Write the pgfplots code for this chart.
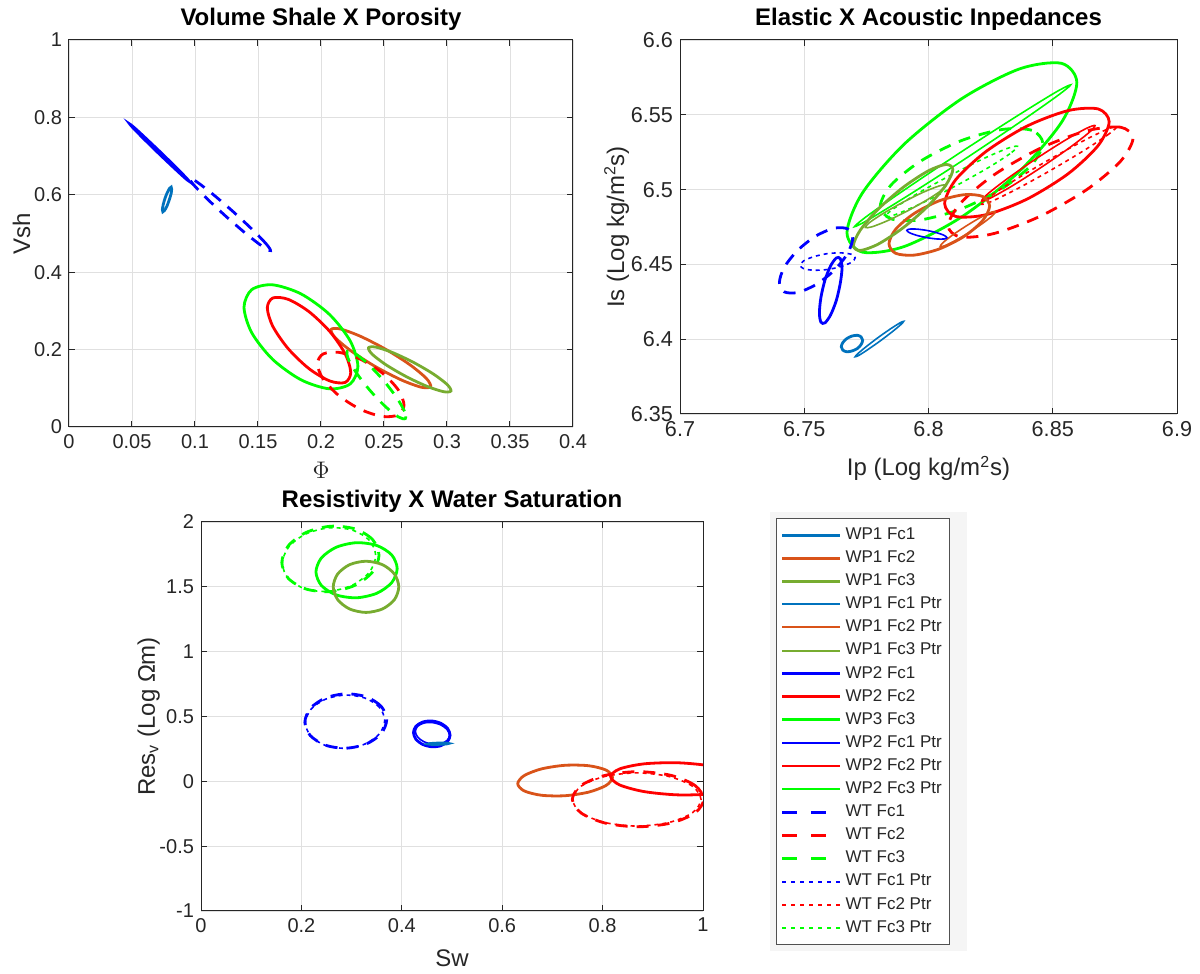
\documentclass[border=0pt]{standalone}
\usepackage{fontspec}
\setmainfont{Liberation Sans}
\usepackage{pgfplots}
\pgfplotsset{compat=1.18}
\definecolor{wpA}{HTML}{0072BD}
\definecolor{wpB}{HTML}{D95319}
\definecolor{wpC}{HTML}{77AC30}
\definecolor{pBlue}{HTML}{0000FF}
\definecolor{pRed}{HTML}{FF0000}
\definecolor{pGreen}{HTML}{00FF00}
\definecolor{axgray}{HTML}{262626}

\tikzset{
  thk/.style={line width=1.4pt},
  thn/.style={line width=0.8pt},
  dsh/.style={line width=1.4pt, dash pattern=on 6pt off 4.5pt},
  dtt/.style={line width=0.8pt, dash pattern=on 2pt off 2pt},
}
\pgfplotsset{
  ellax/.style={
    scale only axis, anchor=south west,
    grid=major, grid style={black!12, line width=0.4pt},
    axis line style={axgray, line width=0.5pt},
    tick style={axgray, line width=0.5pt}, major tick length=3pt, tick align=inside,
    ticklabel style={font=\fontsize{10}{12}\selectfont, text=axgray},
    label style={font=\fontsize{12}{14}\selectfont, text=axgray},
    title style={font=\bfseries\fontsize{12}{14}\selectfont, yshift=-5pt},
    /pgf/number format/assume math mode=true,
    /pgf/number format/fixed, /pgf/number format/precision=2,
    scaled ticks=false,
    every axis plot/.append style={smooth cycle},
  },
}

\begin{document}
\begin{tikzpicture}
\path[use as bounding box] (0pt,0pt) rectangle (600pt,487pt);

% ---------------- Vsh x porosity
\begin{axis}[ellax, at={(34.5pt,273.5pt)}, width=252pt, height=193.5pt,
  xmin=0, xmax=0.4, ymin=0, ymax=1,
  xtick={0,0.05,0.1,0.15,0.2,0.25,0.3,0.35,0.4}, ytick={0,0.2,0.4,0.6,0.8,1},
  title={Volume Shale X Porosity}, xlabel={$\Phi$}, ylabel={Vsh}, ylabel shift=-5pt]
\addplot[pBlue, thk] coordinates {(0.0955,0.6345) (0.0926,0.6454) (0.0842,0.6732) (0.0725,0.7105) (0.0606,0.7472) (0.0518,0.7736) (0.0483,0.7825) (0.0512,0.7716) (0.0596,0.7438) (0.0713,0.7065) (0.0832,0.6698) (0.0920,0.6434)};
\addplot[wpA, thk] coordinates {(0.0811,0.6199) (0.0815,0.6147) (0.0810,0.6023) (0.0795,0.5861) (0.0777,0.5704) (0.0758,0.5594) (0.0745,0.5561) (0.0741,0.5613) (0.0747,0.5737) (0.0761,0.5899) (0.0780,0.6056) (0.0798,0.6166)};
\addplot[pBlue, dsh] coordinates {(0.1599,0.4558) (0.1567,0.4724) (0.1457,0.5096) (0.1299,0.5575) (0.1135,0.6033) (0.1009,0.6346) (0.0955,0.6432) (0.0987,0.6266) (0.1097,0.5894) (0.1255,0.5415) (0.1419,0.4957) (0.1545,0.4644)};
\addplot[wpB, thk] coordinates {(0.2870,0.1040) (0.2837,0.1252) (0.2707,0.1605) (0.2515,0.2005) (0.2312,0.2345) (0.2153,0.2533) (0.2080,0.2520) (0.2113,0.2308) (0.2243,0.1955) (0.2435,0.1555) (0.2638,0.1215) (0.2797,0.1027)};
\addplot[wpC, thk] coordinates {(0.3031,0.0929) (0.3002,0.1095) (0.2893,0.1367) (0.2733,0.1671) (0.2566,0.1926) (0.2435,0.2064) (0.2377,0.2047) (0.2406,0.1881) (0.2515,0.1609) (0.2675,0.1305) (0.2842,0.1050) (0.2973,0.0912)};
\addplot[pRed, thk] coordinates {(0.2236,0.1408) (0.2192,0.1888) (0.2071,0.2463) (0.1905,0.2979) (0.1740,0.3298) (0.1618,0.3334) (0.1574,0.3078) (0.1618,0.2598) (0.1740,0.2023) (0.1905,0.1507) (0.2071,0.1188) (0.2192,0.1152)};
\addplot[pGreen, thk] coordinates {(0.2293,0.1565) (0.2232,0.2223) (0.2067,0.2909) (0.1841,0.3440) (0.1615,0.3674) (0.1450,0.3548) (0.1389,0.3095) (0.1450,0.2438) (0.1615,0.1751) (0.1841,0.1220) (0.2067,0.0986) (0.2232,0.1113)};
\addplot[pRed, dsh] coordinates {(0.2659,0.0565) (0.2613,0.0960) (0.2487,0.1393) (0.2315,0.1747) (0.2143,0.1928) (0.2017,0.1887) (0.1971,0.1635) (0.2017,0.1240) (0.2143,0.0807) (0.2315,0.0453) (0.2487,0.0272) (0.2613,0.0313)};
\addplot[pGreen, dsh] coordinates {(0.2669,0.0217) (0.2663,0.0405) (0.2597,0.0776) (0.2489,0.1230) (0.2367,0.1646) (0.2265,0.1912) (0.2209,0.1957) (0.2215,0.1769) (0.2281,0.1398) (0.2389,0.0944) (0.2511,0.0528) (0.2613,0.0262)};
\end{axis}

% ---------------- Is x Ip
\begin{axis}[ellax, at={(340pt,280pt)}, width=248.5pt, height=187pt,
  xmin=6.7, xmax=6.9, ymin=6.35, ymax=6.6,
  xtick={6.7,6.75,6.8,6.85,6.9}, ytick={6.35,6.4,6.45,6.5,6.55,6.6},
  ticklabel style={font=\fontsize{10.8}{13}\selectfont},
  title={Elastic X Acoustic Inpedances},
  xlabel={Ip (Log kg/m\textsuperscript{2}s)}, ylabel={Is (Log kg/m\textsuperscript{2}s)},
  xlabel style={yshift=-3pt}, ylabel shift=-6pt]
\addplot[pGreen, thk] coordinates {(6.8597,6.5714) (6.8535,6.5844) (6.8365,6.5806) (6.8134,6.5608) (6.7903,6.5305) (6.7734,6.4977) (6.7672,6.4712) (6.7734,6.4582) (6.7903,6.4620) (6.8134,6.4818) (6.8365,6.5121) (6.8535,6.5449)};
\addplot[pGreen, thn] coordinates {(6.8572,6.5700) (6.8518,6.5626) (6.8362,6.5444) (6.8146,6.5204) (6.7927,6.4970) (6.7765,6.4805) (6.7702,6.4752) (6.7756,6.4827) (6.7912,6.5008) (6.8128,6.5248) (6.8347,6.5482) (6.8509,6.5648)};
\addplot[pGreen, dsh] coordinates {(6.8460,6.5310) (6.8416,6.5396) (6.8297,6.5402) (6.8133,6.5328) (6.7970,6.5192) (6.7850,6.5032) (6.7806,6.4890) (6.7850,6.4804) (6.7970,6.4798) (6.8133,6.4872) (6.8297,6.5008) (6.8416,6.5168)};
\addplot[pGreen, dtt] coordinates {(6.8358,6.5289) (6.8328,6.5240) (6.8235,6.5141) (6.8103,6.5019) (6.7969,6.4906) (6.7867,6.4833) (6.7826,6.4819) (6.7856,6.4868) (6.7949,6.4967) (6.8081,6.5089) (6.8215,6.5202) (6.8317,6.5275)};
\addplot[pRed, thk] coordinates {(6.8727,6.5454) (6.8683,6.5539) (6.8562,6.5528) (6.8396,6.5424) (6.8231,6.5254) (6.8109,6.5065) (6.8065,6.4906) (6.8109,6.4821) (6.8231,6.4832) (6.8396,6.4936) (6.8562,6.5106) (6.8683,6.5295)};
\addplot[pRed, thn] coordinates {(6.8670,6.5428) (6.8645,6.5380) (6.8566,6.5278) (6.8453,6.5148) (6.8338,6.5026) (6.8250,6.4944) (6.8214,6.4924) (6.8239,6.4972) (6.8318,6.5074) (6.8431,6.5204) (6.8546,6.5326) (6.8634,6.5408)};
\addplot[pRed, dsh] coordinates {(6.8823,6.5343) (6.8773,6.5417) (6.8637,6.5393) (6.8451,6.5277) (6.8265,6.5100) (6.8129,6.4910) (6.8079,6.4757) (6.8129,6.4683) (6.8265,6.4707) (6.8451,6.4823) (6.8637,6.5000) (6.8773,6.5190)};
\addplot[pRed, dtt] coordinates {(6.8758,6.5422) (6.8727,6.5373) (6.8631,6.5267) (6.8496,6.5133) (6.8359,6.5007) (6.8255,6.4922) (6.8214,6.4902) (6.8245,6.4951) (6.8341,6.5057) (6.8476,6.5191) (6.8613,6.5317) (6.8717,6.5402)};
\addplot[wpB, thk] coordinates {(6.8246,6.4890) (6.8218,6.4954) (6.8144,6.4966) (6.8043,6.4925) (6.7942,6.4840) (6.7868,6.4735) (6.7841,6.4638) (6.7868,6.4574) (6.7942,6.4562) (6.8043,6.4603) (6.8144,6.4688) (6.8218,6.4793)};
\addplot[wpB, thn] coordinates {(6.8269,6.4853) (6.8258,6.4827) (6.8220,6.4777) (6.8166,6.4716) (6.8109,6.4660) (6.8066,6.4625) (6.8047,6.4619) (6.8058,6.4645) (6.8096,6.4695) (6.8151,6.4756) (6.8207,6.4812) (6.8250,6.4847)};
\addplot[wpC, thk] coordinates {(6.8098,6.5134) (6.8071,6.5168) (6.7998,6.5124) (6.7898,6.5015) (6.7798,6.4870) (6.7725,6.4728) (6.7698,6.4626) (6.7725,6.4593) (6.7798,6.4636) (6.7898,6.4745) (6.7998,6.4890) (6.8071,6.5033)};
\addplot[wpC, thn] coordinates {(6.8071,6.5030) (6.8053,6.4996) (6.7997,6.4934) (6.7917,6.4859) (6.7835,6.4792) (6.7772,6.4751) (6.7746,6.4747) (6.7763,6.4780) (6.7819,6.4842) (6.7899,6.4917) (6.7981,6.4984) (6.8044,6.5025)};
\addplot[pBlue, thk] coordinates {(6.7652,6.4476) (6.7645,6.4538) (6.7629,6.4543) (6.7606,6.4490) (6.7583,6.4393) (6.7567,6.4278) (6.7561,6.4176) (6.7567,6.4114) (6.7583,6.4109) (6.7606,6.4162) (6.7629,6.4259) (6.7645,6.4374)};
\addplot[pBlue, dsh] coordinates {(6.7695,6.4676) (6.7675,6.4737) (6.7621,6.4742) (6.7547,6.4690) (6.7473,6.4593) (6.7419,6.4479) (6.7400,6.4378) (6.7419,6.4317) (6.7473,6.4312) (6.7547,6.4365) (6.7621,6.4461) (6.7675,6.4575)};
\addplot[pBlue, dtt] coordinates {(6.7705,6.4544) (6.7690,6.4567) (6.7649,6.4577) (6.7594,6.4572) (6.7539,6.4552) (6.7498,6.4524) (6.7484,6.4494) (6.7498,6.4471) (6.7539,6.4461) (6.7594,6.4466) (6.7649,6.4486) (6.7690,6.4514)};
\addplot[pBlue, thn] coordinates {(6.8074,6.4679) (6.8063,6.4694) (6.8033,6.4712) (6.7993,6.4727) (6.7953,6.4736) (6.7923,6.4736) (6.7913,6.4727) (6.7923,6.4712) (6.7953,6.4694) (6.7993,6.4679) (6.8033,6.4670) (6.8063,6.4670)};
\addplot[wpA, thk] coordinates {(6.7735,6.3993) (6.7729,6.4015) (6.7714,6.4026) (6.7692,6.4021) (6.7671,6.4004) (6.7655,6.3977) (6.7649,6.3949) (6.7655,6.3927) (6.7671,6.3916) (6.7692,6.3921) (6.7714,6.3938) (6.7729,6.3965)};
\addplot[wpA, thn] coordinates {(6.7900,6.4119) (6.7889,6.4098) (6.7855,6.4051) (6.7807,6.3990) (6.7758,6.3933) (6.7721,6.3893) (6.7705,6.3883) (6.7716,6.3904) (6.7750,6.3951) (6.7798,6.4012) (6.7847,6.4069) (6.7885,6.4109)};
\end{axis}

% ---------------- Resistivity x Sw
\begin{axis}[ellax, at={(100.5pt,31.5pt)}, width=251pt, height=194.5pt,
  xmin=0, xmax=1, ymin=-1, ymax=2,
  xtick={0,0.2,0.4,0.6,0.8,1}, ytick={-1,-0.5,0,0.5,1,1.5,2},
  title={Resistivity X Water Saturation}, xlabel={Sw},
  ylabel={Res\textsubscript{v} (Log Ωm)}, xlabel style={yshift=-2pt}, ylabel shift=-7pt]
\addplot[pGreen, dsh] coordinates {(0.3546,1.7432) (0.3416,1.8655) (0.3062,1.9475) (0.2578,1.9673) (0.2094,1.9195) (0.1740,1.8170) (0.1610,1.6872) (0.1740,1.5649) (0.2094,1.4829) (0.2578,1.4631) (0.3062,1.5109) (0.3416,1.6134)};
\addplot[pGreen, dtt] coordinates {(0.3480,1.7400) (0.3355,1.8585) (0.3015,1.9372) (0.2550,1.9550) (0.2085,1.9072) (0.1745,1.8065) (0.1620,1.6800) (0.1745,1.5615) (0.2085,1.4828) (0.2550,1.4650) (0.3015,1.5128) (0.3355,1.6135)};
\addplot[pGreen, thk] coordinates {(0.3908,1.6410) (0.3800,1.7455) (0.3504,1.8184) (0.3099,1.8404) (0.2695,1.8054) (0.2398,1.7229) (0.2290,1.6150) (0.2398,1.5105) (0.2695,1.4376) (0.3099,1.4156) (0.3504,1.4506) (0.3800,1.5331)};
\addplot[wpC, thk] coordinates {(0.3940,1.5000) (0.3853,1.5987) (0.3614,1.6710) (0.3287,1.6974) (0.2961,1.6710) (0.2722,1.5987) (0.2634,1.5000) (0.2722,1.4013) (0.2961,1.3291) (0.3287,1.3026) (0.3614,1.3291) (0.3853,1.4013)};
\addplot[pBlue, dsh] coordinates {(0.3699,0.4742) (0.3590,0.5779) (0.3292,0.6514) (0.2884,0.6750) (0.2477,0.6424) (0.2178,0.5623) (0.2069,0.4562) (0.2178,0.3525) (0.2477,0.2790) (0.2884,0.2554) (0.3292,0.2880) (0.3590,0.3681)};
\addplot[pBlue, dtt] coordinates {(0.3660,0.4700) (0.3554,0.5712) (0.3265,0.6425) (0.2870,0.6650) (0.2475,0.6325) (0.2186,0.5538) (0.2080,0.4500) (0.2186,0.3488) (0.2475,0.2775) (0.2870,0.2550) (0.3265,0.2875) (0.3554,0.3662)};
\addplot[pBlue, thk] coordinates {(0.4962,0.3560) (0.4913,0.4071) (0.4780,0.4472) (0.4597,0.4655) (0.4415,0.4572) (0.4281,0.4244) (0.4232,0.3760) (0.4281,0.3249) (0.4415,0.2848) (0.4597,0.2665) (0.4780,0.2748) (0.4913,0.3076)};
\addplot[pBlue, thn] coordinates {(0.4950,0.3550) (0.4904,0.3985) (0.4780,0.4344) (0.4610,0.4530) (0.4440,0.4494) (0.4316,0.4245) (0.4270,0.3850) (0.4316,0.3415) (0.4440,0.3056) (0.4610,0.2870) (0.4780,0.2906) (0.4904,0.3155)};
\addplot[wpA, thk] coordinates {(0.4930,0.2920) (0.4903,0.2942) (0.4830,0.2953) (0.4730,0.2950) (0.4630,0.2933) (0.4557,0.2908) (0.4530,0.2880) (0.4557,0.2858) (0.4630,0.2847) (0.4730,0.2850) (0.4830,0.2867) (0.4903,0.2892)};
\addplot[wpB, thk] coordinates {(0.8197,0.0309) (0.8071,0.0863) (0.7725,0.1202) (0.7253,0.1237) (0.6781,0.0957) (0.6436,0.0438) (0.6309,-0.0181) (0.6436,-0.0735) (0.6781,-0.1074) (0.7253,-0.1109) (0.7725,-0.0829) (0.8071,-0.0310)};
\addplot[pRed, thk] coordinates {(1.0840,0.0023) (1.0660,0.0665) (1.0170,0.1180) (0.9500,0.1431) (0.8830,0.1350) (0.8340,0.0959) (0.8160,0.0363) (0.8340,-0.0279) (0.8830,-0.0794) (0.9500,-0.1045) (1.0170,-0.0964) (1.0660,-0.0573)};
\addplot[pRed, dsh] coordinates {(1.0015,-0.1379) (0.9840,-0.0316) (0.9361,0.0462) (0.8706,0.0747) (0.8052,0.0462) (0.7572,-0.0316) (0.7397,-0.1379) (0.7572,-0.2442) (0.8052,-0.3220) (0.8706,-0.3505) (0.9361,-0.3220) (0.9840,-0.2442)};
\addplot[pRed, dtt] coordinates {(0.9960,-0.1400) (0.9789,-0.0375) (0.9320,0.0375) (0.8680,0.0650) (0.8040,0.0375) (0.7572,-0.0375) (0.7400,-0.1400) (0.7572,-0.2425) (0.8040,-0.3175) (0.8680,-0.3450) (0.9320,-0.3175) (0.9789,-0.2425)};
\end{axis}

% ---------------- legend
\fill[black!4] (385pt,11.5pt) rectangle (483.5pt,231pt);
\begin{axis}[hide axis, scale only axis, anchor=north west, at={(388pt,228pt)},
  width=91pt, height=213pt, xmin=0, xmax=1, ymin=0, ymax=1,
  legend image code/.code={\draw[#1] (0pt,0pt) -- (29pt,0pt);},
  legend style={at={(0,1)}, anchor=north west, draw=axgray!80, fill=white,
    line width=0.5pt, font=\fontsize{8.5}{10}\selectfont, text=axgray,
    inner xsep=2pt, inner ysep=2.5pt, cells={anchor=west},
    nodes={inner xsep=2pt, inner ysep=1.575pt, text height=6.4pt, text depth=2pt}}]
\addlegendimage{wpA, line width=1.5pt} \addlegendentry{WP1 Fc1}
\addlegendimage{wpB, line width=1.5pt} \addlegendentry{WP1 Fc2}
\addlegendimage{wpC, line width=1.5pt} \addlegendentry{WP1 Fc3}
\addlegendimage{wpA, line width=1pt} \addlegendentry{WP1 Fc1 Ptr}
\addlegendimage{wpB, line width=1pt} \addlegendentry{WP1 Fc2 Ptr}
\addlegendimage{wpC, line width=1pt} \addlegendentry{WP1 Fc3 Ptr}
\addlegendimage{pBlue, line width=1.5pt} \addlegendentry{WP2 Fc1}
\addlegendimage{pRed, line width=1.5pt} \addlegendentry{WP2 Fc2}
\addlegendimage{pGreen, line width=1.5pt} \addlegendentry{WP3 Fc3}
\addlegendimage{pBlue, line width=1pt} \addlegendentry{WP2 Fc1 Ptr}
\addlegendimage{pRed, line width=1pt} \addlegendentry{WP2 Fc2 Ptr}
\addlegendimage{pGreen, line width=1pt} \addlegendentry{WP2 Fc3 Ptr}
\addlegendimage{pBlue, line width=1.5pt, dash pattern=on 7.5pt off 7pt} \addlegendentry{WT Fc1}
\addlegendimage{pRed, line width=1.5pt, dash pattern=on 7.5pt off 7pt} \addlegendentry{WT Fc2}
\addlegendimage{pGreen, line width=1.5pt, dash pattern=on 7.5pt off 7pt} \addlegendentry{WT Fc3}
\addlegendimage{pBlue, line width=1pt, dash pattern=on 2pt off 2.5pt} \addlegendentry{WT Fc1 Ptr}
\addlegendimage{pRed, line width=1pt, dash pattern=on 2pt off 2.5pt} \addlegendentry{WT Fc2 Ptr}
\addlegendimage{pGreen, line width=1pt, dash pattern=on 2pt off 2.5pt} \addlegendentry{WT Fc3 Ptr}
\end{axis}
\end{tikzpicture}
\end{document}
